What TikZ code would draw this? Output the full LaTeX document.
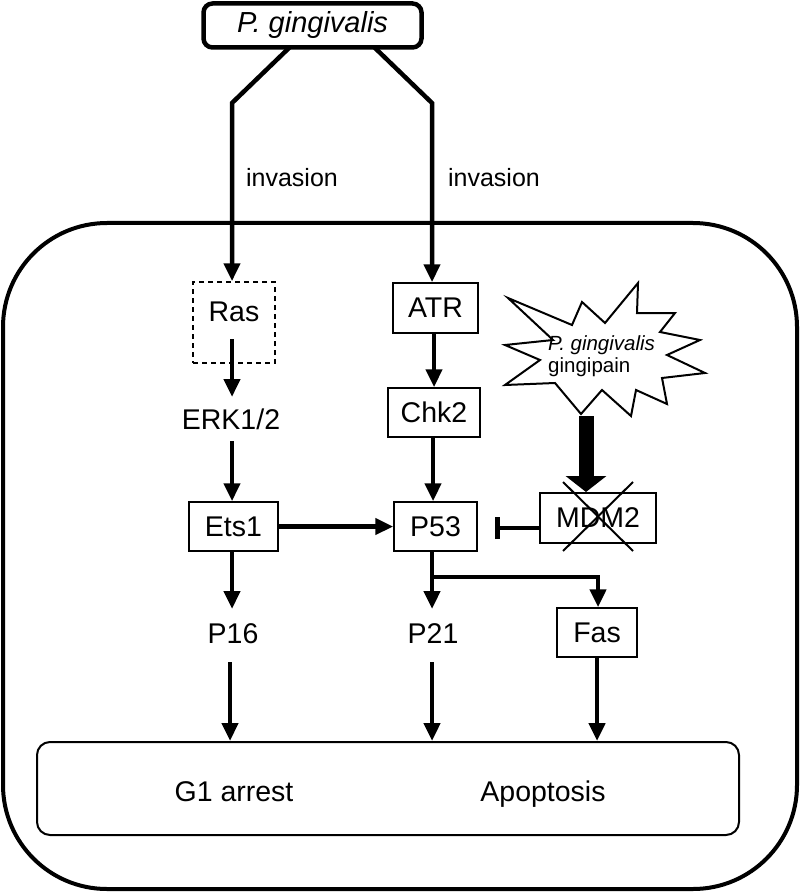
\documentclass[tikz,border=0pt]{standalone}
\usepackage{fontspec}
\setmainfont{Liberation Sans}
\usetikzlibrary{arrows.meta,calc}
\begin{document}
\begin{tikzpicture}[x=1pt,y=-1pt,
  lbl/.style={font=\fontsize{28.5}{32}\selectfont, inner sep=0pt},
  boxn/.style={draw, line width=1.5pt, fill=white, inner sep=0pt, font=\fontsize{28.5}{32}\selectfont},
  arr/.style={line width=4.5pt, -{Triangle[width=16pt,length=18pt]}},
  inh/.style={line width=4.5pt, -{Bar[width=22pt]}}
]
\useasboundingbox (0,0) rectangle (800,893);

% cell
\draw[line width=4pt, rounded corners=104pt] (3,223) rectangle (797,889);

% top box
\node[draw, line width=4.5pt, rounded corners=9pt, minimum width=218pt, minimum height=44pt, inner sep=0pt,
      font=\fontsize{29}{32}\selectfont\itshape] (pg) at (312.5,25.5) {P. gingivalis};
\coordinate (tl) at (290,47);
\coordinate (tr) at (374,47);
\coordinate (bl) at (232,103);
\coordinate (br) at (432,103);

% invasion labels
\node[lbl, font=\fontsize{25}{28}\selectfont, anchor=base] (inv1) at (292,187) {invasion};
\node[lbl, font=\fontsize{25}{28}\selectfont, anchor=base] (inv2) at (494,187) {invasion};

% left column
\node[draw, dashed, dash pattern=on 5pt off 4pt, line width=1.5pt, minimum width=82pt, minimum height=81pt, inner sep=0pt] (rasbox) at (234,322.5) {};
\node[lbl, anchor=base] (ras) at (234,321) {Ras};
\coordinate (rasout) at (232,339);
\node[lbl, anchor=base] (erk) at (231,429) {ERK1/2};
\node[boxn, minimum width=89pt, minimum height=49pt] (ets) at (233.5,526.5) {Ets1};
\node[lbl, anchor=base] (p16) at (233,643) {P16};

% middle column
\node[boxn, minimum width=85pt, minimum height=50pt] (atr) at (435.5,308) {ATR};
\node[boxn, minimum width=92pt, minimum height=49pt] (chk) at (434,412.5) {Chk2};
\node[boxn, minimum width=83pt, minimum height=49pt] (p53) at (435.5,526.5) {P53};
\node[lbl, anchor=base] (p21) at (433,643) {P21};

% right column
\node[boxn, minimum width=116pt, minimum height=50pt] (mdm) at (598,518) {MDM2};
\node[boxn, minimum width=80pt, minimum height=49pt] (fas) at (597,632.5) {Fas};

% bottom box
\node[draw, line width=2pt, rounded corners=13pt, minimum width=702pt, minimum height=93pt] (out) at (388,788.5) {};
\node[lbl, anchor=base] (g1) at (234,801) {G1 arrest};
\node[lbl, anchor=base] (apo) at (543,801) {Apoptosis};

% starburst
\draw[line width=2pt, fill=white, line join=miter]
  (508,298) -- (572,325) -- (582,302) -- (605,323) -- (638,283) -- (637,313) -- (675,313) --
  (660,332) -- (700,340) -- (667,355) -- (705,373) -- (662,378) -- (667,404) -- (636,390) --
  (631,416) -- (602,390) -- (581,414) -- (555,383) -- (505,385) -- (540,360) -- (505,345) --
  (553,340) -- cycle;
\node[inner sep=0pt, anchor=base west, font=\fontsize{20.5}{24}\selectfont\itshape] (star1) at (548,350) {P. gingivalis};
\node[inner sep=0pt, anchor=base west, font=\fontsize{20.5}{24}\selectfont] (star2) at (548,372) {gingipain};
\coordinate (starout) at (586,416);

% connectors
\draw[arr] (tl) -- (bl) -- (rasbox.north -| bl);
\draw[arr] (tr) -- (br) -- (atr.north -| br);
\draw[arr] (rasout) -- (rasout |- 0,397);
\draw[arr] (232,441) -- (ets.north -| 232,0);
\draw[arr] (ets.east) -- (p53.west);
\draw[arr] (ets.south -| 232,0) -- (232,609);
\draw[arr] (atr.south -| 434,0) -- (chk.north -| 434,0);
\draw[arr] (chk.south -| 433,0) -- (p53.north -| 433,0);
\draw[line width=4.5pt] (p53.south -| 432,0) -- (432,577);
\draw[arr] (432,575) -- (432,609);
\draw[arr] (432,577) -| (fas.north -| 598,0);
\draw[inh] (mdm.west |- 0,528) -- (495,528);
\draw[line width=15pt, -{Triangle[width=40pt,length=16pt]}] (starout) -- (586,492);
\draw[line width=2pt] (563,482) -- (633,551);
\draw[line width=2pt] (633,482) -- (563,551);
\draw[arr] (230,662) -- (out.north -| 230,0);
\draw[arr] (432,662) -- (out.north -| 432,0);
\draw[arr] (fas.south -| 597,0) -- (out.north -| 597,0);
\end{tikzpicture}
\end{document}
